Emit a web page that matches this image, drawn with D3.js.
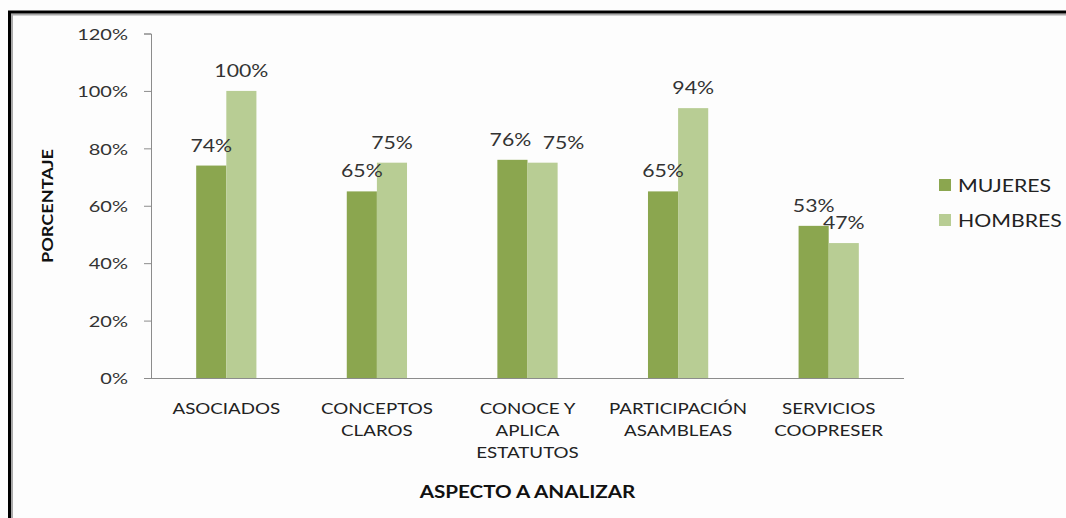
<!DOCTYPE html>
<html>
<head>
<meta charset="utf-8">
<script src="https://cdn.jsdelivr.net/npm/d3@7"></script>
<style>
	body { margin: 0; background: #fff; }
	svg { display: block; font-family: Lato, "Open Sans", sans-serif; }
</style>
</head>
<body>
<div id="chart"></div>
<script>
// categories and values (percent)
var categories = [
	["ASOCIADOS"],
	["CONCEPTOS", "CLAROS"],
	["CONOCE Y", "APLICA", "ESTATUTOS"],
	["PARTICIPACIÓN", "ASAMBLEAS"],
	["SERVICIOS", "COOPRESER"]
];
var seriesNames = ["MUJERES", "HOMBRES"];
var mujeres = [74, 65, 76, 65, 53];
var hombres = [100, 75, 75, 94, 47];
var yTicks = [0, 20, 40, 60, 80, 100, 120];

var colors = ["#8ba64f", "#b8cd94"];
var sx = 1.25; // the original text looks horizontally stretched

var width = 1066, height = 518;
var margin = {top: 33.5, left: 151, right: 162, bottom: 140};
var plotW = width - margin.left - margin.right,
	plotH = height - margin.top - margin.bottom;

var svg = d3.select("#chart").append("svg")
	.attr("width", width)
	.attr("height", height);

// place a stretched text at (x, y)
function stretched(sel, x, y) {
	return sel.attr("x", 0).attr("y", 0)
		.attr("transform", "translate(" + x + "," + y + ") scale(" + sx + ",1)");
}

// frame with shadow
svg.append("rect").attr("width", width).attr("height", height).attr("fill", "#fdfdfd");
svg.append("line").attr("x1", 8).attr("x2", width).attr("y1", 14.5).attr("y2", 14.5)
	.attr("stroke", "#aaa").attr("stroke-width", 2);
svg.append("line").attr("x1", 12).attr("x2", 12).attr("y1", 14).attr("y2", height)
	.attr("stroke", "#aaa").attr("stroke-width", 2);
svg.append("line").attr("x1", 8).attr("x2", width).attr("y1", 12).attr("y2", 12)
	.attr("stroke", "#000").attr("stroke-width", 3);
svg.append("line").attr("x1", 9.5).attr("x2", 9.5).attr("y1", 11).attr("y2", height)
	.attr("stroke", "#000").attr("stroke-width", 3);

var g = svg.append("g")
	.attr("transform", "translate(" + margin.left + "," + margin.top + ")");

var x0 = d3.scaleBand()
	.domain(d3.range(categories.length))
	.range([0, plotW])
	.paddingInner(0.6)
	.paddingOuter(0.3);
var x1 = d3.scaleBand()
	.domain(d3.range(seriesNames.length))
	.range([0, x0.bandwidth()]);
var y = d3.scaleLinear().domain([0, 120]).range([plotH, 0]);

// y axis
var yAxis = g.append("g")
	.call(d3.axisLeft(y).tickValues(yTicks).tickSize(7)
		.tickFormat(function(d) { return d + "%"; }))
	.attr("font-family", null)
	.attr("font-size", null);
yAxis.select(".domain").attr("stroke", "#8c8c8c").attr("d", "M-7,0.5H0.5V" + plotH);
yAxis.selectAll(".tick line").attr("stroke", "#8c8c8c");
yAxis.selectAll(".tick text")
	.attr("fill", "#333")
	.attr("dy", "0.36em")
	.style("font-size", "16px")
	.each(function() {
		d3.select(this).call(stretched, -23, 0);
	});

// x baseline
g.append("line")
	.attr("x1", 0).attr("x2", plotW)
	.attr("y1", plotH + 0.5).attr("y2", plotH + 0.5)
	.attr("stroke", "#8c8c8c");

var data = categories.map(function(c, i) {
	return {i: i, values: [mujeres[i], hombres[i]]};
});

var groups = g.selectAll(".grp").data(data).enter().append("g")
	.attr("class", "grp")
	.attr("transform", function(d) { return "translate(" + x0(d.i) + ",0)"; });

groups.selectAll("rect").data(function(d) { return d.values; }).enter().append("rect")
	.attr("x", function(v, j) { return x1(j); })
	.attr("y", function(v) { return y(v); })
	.attr("width", x1.bandwidth())
	.attr("height", function(v) { return plotH - y(v); })
	.attr("fill", function(v, j) { return colors[j]; });

// value labels, nudged apart when the two labels of a group collide
groups.each(function(d) {
	var grp = d3.select(this);
	var cx = d.values.map(function(v, j) { return x1(j) + x1.bandwidth() / 2; });
	var cy = d.values.map(function(v) { return y(v) - 14; });
	if (Math.abs(cy[0] - cy[1]) < 14) {
		cx[0] -= 2;
		cx[1] += 21;
	}
	d.values.forEach(function(v, j) {
		grp.append("text")
			.attr("text-anchor", "middle")
			.attr("fill", "#333")
			.style("font-size", "17px")
			.text(v + "%")
			.call(stretched, cx[j], cy[j]);
	});
});

// category labels
var catLabels = g.selectAll(".cat").data(categories).enter().append("text")
	.attr("class", "cat")
	.attr("text-anchor", "middle")
	.attr("fill", "#222")
	.style("font-size", "15px")
	.each(function(d, i) {
		d3.select(this).call(stretched, x0(i) + x0.bandwidth() / 2, plotH + 36);
	});
catLabels.selectAll("tspan").data(function(d) { return d; }).enter().append("tspan")
	.attr("x", 0)
	.attr("dy", function(d, k) { return k === 0 ? 0 : 22; })
	.text(function(d) { return d; });

// axis titles
svg.append("text")
	.attr("transform", "translate(53,206) rotate(-90) scale(" + sx + ",1)")
	.attr("text-anchor", "middle")
	.attr("fill", "#111")
	.style("font-size", "14.5px")
	.style("font-weight", "bold")
	.text("PORCENTAJE");
svg.append("text")
	.attr("text-anchor", "middle")
	.attr("fill", "#111")
	.style("font-size", "16.5px")
	.style("font-weight", "bold")
	.text("ASPECTO A ANALIZAR")
	.call(stretched, margin.left + plotW / 2, 498);

// legend
var legend = svg.selectAll(".leg").data(seriesNames).enter().append("g")
	.attr("class", "leg")
	.attr("transform", function(d, i) { return "translate(939," + (179 + i * 35) + ")"; });
legend.append("rect").attr("width", 12).attr("height", 12)
	.attr("fill", function(d, i) { return colors[i]; });
legend.append("text")
	.attr("fill", "#222")
	.style("font-size", "17px")
	.text(function(d) { return d; })
	.call(stretched, 19, 12.5);
</script>
</body>
</html>
